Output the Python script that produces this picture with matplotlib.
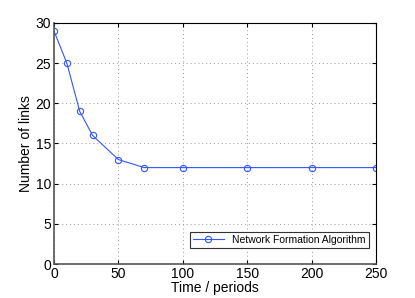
import matplotlib.pyplot as plt

plt.rcParams['font.family'] = ['Liberation Sans', 'DejaVu Sans']

periods = [0, 10, 20, 30, 50, 70, 100, 150, 200, 250]
links = [29, 25, 19, 16, 13, 12, 12, 12, 12, 12]

fig = plt.figure(figsize=(4.15, 2.98), dpi=100)
ax = fig.add_axes([0.130, 0.114, 0.776, 0.809])

ax.plot(periods, links, color='#3355ff', linewidth=0.8, marker='o', markersize=4.5,
        markerfacecolor='none', markeredgewidth=0.8, label='Network Formation Algorithm')

ax.set_xlim(0, 250)
ax.set_ylim(0, 30)
ax.set_xticks([0, 50, 100, 150, 200, 250])
ax.set_yticks([0, 5, 10, 15, 20, 25, 30])
ax.grid(True, linestyle=(0, (1, 3)), color='#999999', linewidth=0.7)
ax.tick_params(direction='in', top=True, right=True, labelsize=10, length=3, pad=2)
for s in ['left', 'bottom']:
    ax.spines[s].set_color('#555555')
    ax.spines[s].set_linewidth(1.2)
for s in ['top', 'right']:
    ax.spines[s].set_linewidth(0.8)

ax.set_xlabel('Time / periods', fontsize=10, labelpad=0)
ax.set_ylabel('Number of links', fontsize=10, labelpad=2)

leg = ax.legend(loc='lower right', bbox_to_anchor=(0.978, 0.066), borderaxespad=0,
                fontsize=7.5, fancybox=False, edgecolor='#333333',
                framealpha=1, borderpad=0.3, handlelength=3)
leg.get_frame().set_linewidth(0.8)

fig.savefig('out.png', dpi=100)
